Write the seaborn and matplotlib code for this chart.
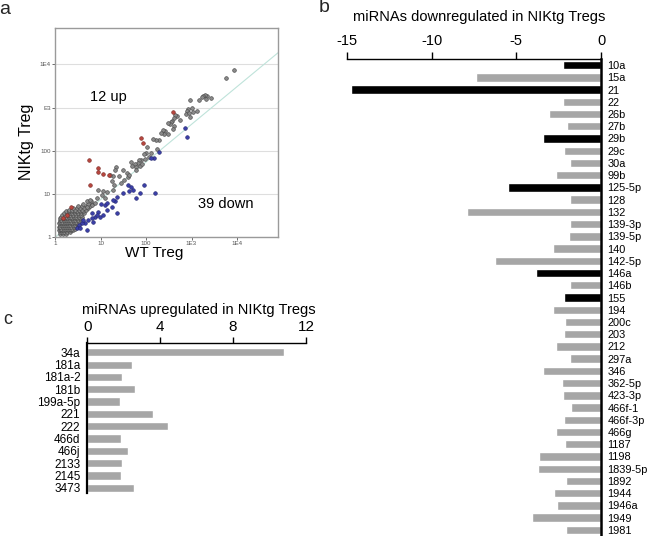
import numpy as np
import pandas as pd
import matplotlib
matplotlib.use("Agg")
import matplotlib.pyplot as plt
import seaborn as sns

# ======================
# DATA
# ======================
# panel a: log10 expression, WT Treg (x) vs NIKtg Treg (y)
# dense low-expression cluster, one row per log10(y) value
cluster_rows = [
    (0.08, [0.12, 0.18, 0.24]),
    (0.12, [0.10, 0.15, 0.20, 0.26, 0.32]),
    (0.16, [0.09, 0.13, 0.18, 0.23, 0.29, 0.35, 0.40]),
    (0.20, [0.10, 0.14, 0.19, 0.24, 0.28, 0.33, 0.38, 0.44]),
    (0.24, [0.08, 0.12, 0.17, 0.21, 0.26, 0.31, 0.36, 0.41, 0.47]),
    (0.28, [0.10, 0.15, 0.20, 0.25, 0.29, 0.34, 0.39, 0.45, 0.51]),
    (0.32, [0.09, 0.13, 0.18, 0.23, 0.27, 0.32, 0.37, 0.43, 0.49, 0.55]),
    (0.36, [0.11, 0.16, 0.21, 0.26, 0.30, 0.35, 0.41, 0.46, 0.52]),
    (0.40, [0.10, 0.14, 0.19, 0.24, 0.29, 0.34, 0.39, 0.44, 0.50, 0.57]),
    (0.44, [0.12, 0.17, 0.22, 0.27, 0.32, 0.37, 0.43, 0.48, 0.55]),
    (0.48, [0.13, 0.19, 0.24, 0.30, 0.35, 0.41, 0.47, 0.53, 0.60]),
    (0.52, [0.16, 0.22, 0.28, 0.33, 0.39, 0.46, 0.52, 0.58]),
    (0.56, [0.20, 0.26, 0.32, 0.38, 0.44, 0.50, 0.57, 0.64]),
    (0.60, [0.25, 0.31, 0.37, 0.43, 0.49, 0.56, 0.62]),
    (0.64, [0.30, 0.38, 0.45, 0.52, 0.60, 0.68]),
    (0.68, [0.40, 0.48, 0.56, 0.64, 0.72]),
    (0.72, [0.50, 0.60, 0.70, 0.78]),
    (0.78, [0.62, 0.72, 0.82]),
    (0.84, [0.70, 0.80]),
]
band_wt = [3.93, 3.76, 3.42, 3.33, 3.30, 3.26, 3.22, 3.31, 3.17, 2.97, 3.11, 2.97,
           3.00, 2.93, 2.90, 3.03, 2.88, 2.95, 2.75, 2.68, 2.64, 2.62, 2.58, 2.55,
           2.52, 2.48, 2.62, 2.60, 2.42, 2.37, 2.48, 2.40, 2.33, 2.28, 2.22, 2.16,
           2.03, 2.00, 1.95, 1.98, 1.90, 1.85, 1.82, 1.75, 1.70, 1.86, 1.78, 1.68,
           1.92, 2.06, 1.78, 1.58, 1.60, 1.52, 1.40, 1.28, 1.20, 1.25, 1.30, 1.45,
           1.28, 1.15, 1.05, 0.95, 1.03, 0.92, 0.77, 0.81, 0.70, 1.10, 0.88, 1.50,
           1.62, 2.25, 2.10, 1.35, 1.32]
band_nik = [3.86, 3.69, 3.22, 3.26, 3.30, 3.28, 3.24, 3.19, 3.17, 3.17, 2.92, 2.79,
            3.00, 2.97, 2.92, 2.90, 2.86, 2.88, 2.72, 2.80, 2.84, 2.76, 2.70, 2.66,
            2.62, 2.64, 2.58, 2.50, 2.47, 2.48, 2.40, 2.38, 2.42, 2.25, 2.24, 2.28,
            2.10, 1.95, 1.92, 1.82, 1.80, 1.78, 1.72, 1.70, 1.64, 1.66, 1.62, 1.75,
            1.70, 1.85, 1.55, 1.48, 1.40, 1.33, 1.42, 1.43, 1.45, 1.30, 1.20, 1.25,
            1.10, 1.05, 1.08, 1.10, 0.98, 0.91, 0.86, 0.75, 0.70, 0.92, 0.80, 1.55,
            1.45, 2.05, 1.95, 1.62, 1.55]
up_wt = [0.75, 0.77, 0.95, 0.94, 1.06, 1.19, 1.90, 1.93, 2.60, 0.35, 0.26, 0.18]
up_nik = [1.79, 1.20, 1.61, 1.50, 1.47, 1.44, 2.29, 2.19, 2.89, 0.71, 0.52, 0.44]
down_wt = [2.86, 2.89, 2.29, 2.18, 2.12, 1.96, 2.20, 1.87, 1.79, 1.72, 1.68, 1.63,
           1.61, 1.50, 1.36, 1.32, 1.28, 1.36, 1.14, 1.10, 1.01, 0.95, 0.99, 0.88,
           0.81, 0.73, 0.66, 0.59, 0.53, 0.48, 0.70, 0.92, 0.81, 0.62, 1.15, 1.25,
           0.84, 0.55, 1.06]
down_nik = [2.52, 2.33, 1.98, 1.83, 1.84, 1.21, 1.03, 1.03, 0.90, 1.10, 1.17, 1.06,
            1.21, 1.03, 0.94, 0.83, 0.86, 0.57, 0.63, 0.75, 0.77, 0.59, 0.48, 0.48,
            0.44, 0.40, 0.34, 0.32, 0.28, 0.21, 0.17, 0.52, 0.56, 0.40, 0.79, 0.71,
            0.36, 0.22, 0.52]

# panel b: downregulated miRNAs
down_labels = ["10a", "15a", "21", "22", "26b", "27b", "29b", "29c", "30a", "99b",
               "125-5p", "128", "132", "139-3p", "139-5p", "140", "142-5p", "146a",
               "146b", "155", "194", "200c", "203", "212", "297a", "346", "362-5p",
               "423-3p", "466f-1", "466f-3p", "466g", "1187", "1198", "1839-5p",
               "1892", "1944", "1946a", "1949", "1981"]
down_values = [-2.27, -7.41, -14.77, -2.23, -3.08, -2.00, -3.42, -2.17, -1.84, -2.67,
               -5.47, -1.84, -7.94, -1.82, -1.90, -2.83, -6.26, -3.85, -1.84, -2.21,
               -2.81, -2.15, -2.19, -2.65, -1.82, -3.42, -2.31, -2.25, -1.80, -2.17,
               -2.65, -2.13, -3.64, -3.75, -2.04, -2.79, -2.59, -4.09, -2.08]
down_highlight = ["10a", "21", "29b", "125-5p", "146a", "155"]

# panel c: upregulated miRNAs
up_labels = ["34a", "181a", "181a-2", "181b", "199a-5p", "221", "222", "466d",
             "466j", "2133", "2145", "3473"]
up_values = [10.79, 2.43, 1.92, 2.60, 1.81, 3.60, 4.41, 1.83, 2.23, 1.88, 1.85, 2.56]

GRAY = "#a6a6a6"
W, H = 647, 536

sns.set_theme(style="white")
plt.rcParams["font.family"] = ["Liberation Sans", "DejaVu Sans"]
plt.rcParams["axes.unicode_minus"] = False

fig = plt.figure(figsize=(W / 100, H / 100), dpi=100)

# ======================
# PANEL A - scatter
# ======================
ax_a = fig.add_axes([55 / W, 1 - 237.3 / H, 223 / W, 209.6 / H])

c_wt = [x for _, xs in cluster_rows for x in xs]
c_nik = [y for y, xs in cluster_rows for _ in xs]
gray_df = pd.DataFrame({"wt": 10 ** np.array(c_wt + band_wt),
                        "nik": 10 ** np.array(c_nik + band_nik)})
up_df = pd.DataFrame({"wt": 10 ** np.array(up_wt), "nik": 10 ** np.array(up_nik)})
down_df = pd.DataFrame({"wt": 10 ** np.array(down_wt), "nik": 10 ** np.array(down_nik)})

ax_a.set_xscale("log")
ax_a.set_yscale("log")
ax_a.set_xlim(1, 10 ** 4.9)
ax_a.set_ylim(1, 10 ** 4.85)
ax_a.plot([1, 10 ** 4.9], [1, 10 ** 4.27], color="#bfe3da", lw=0.8, zorder=1)

sns.scatterplot(data=gray_df, x="wt", y="nik", color="#8a8a8a", edgecolor="#4a4a4a",
                linewidth=0.45, s=7, ax=ax_a, zorder=2)
sns.scatterplot(data=up_df, x="wt", y="nik", color="#b8463e", edgecolor="#7a2a25",
                linewidth=0.4, s=7, ax=ax_a, zorder=3)
sns.scatterplot(data=down_df, x="wt", y="nik", color="#3b3fa8", edgecolor="#23266e",
                linewidth=0.4, s=7, ax=ax_a, zorder=3)

ax_a.minorticks_off()
ax_a.set_xticks([1, 10, 100, 1e3, 1e4])
ax_a.set_xticklabels(["1", "10", "100", "1E3", "1E4"])
ax_a.set_yticks([1, 10, 100, 1e3, 1e4])
ax_a.set_yticklabels(["1", "10", "100", "E3", "1E4"])
ax_a.tick_params(axis="both", which="major", labelsize=4.5, colors="#555555",
                 length=2, width=0.6, pad=1, bottom=True, left=True)
ax_a.yaxis.grid(True, color="#dedede", lw=0.8)
ax_a.xaxis.grid(False)
ax_a.set_axisbelow(True)
for sp in ax_a.spines.values():
    sp.set_color("#9a9a9a")
    sp.set_linewidth(1.0)
ax_a.set_xlabel("")
ax_a.set_ylabel("")
ax_a.text(0.157, 0.669, "12 up", transform=ax_a.transAxes, fontsize=10.5,
          ha="left", va="center", color="black")
ax_a.text(0.643, 0.159, "39 down", transform=ax_a.transAxes, fontsize=10.5,
          ha="left", va="center", color="black")
fig.text(27 / W, 1 - 142 / H, "NIKtg Treg", rotation=90, fontsize=11.5,
         ha="center", va="center", color="black")
fig.text(154 / W, 1 - 253 / H, "WT Treg", fontsize=11, ha="center",
         va="center", color="black")

# ======================
# PANEL B - downregulated
# ======================
ax_b = fig.add_axes([347 / W, 0, 254 / W, (H - 59) / H])
down_colors = ["black" if m in down_highlight else GRAY for m in down_labels]
down_df_bar = pd.DataFrame({"mirna": down_labels, "fc": down_values})
sns.barplot(data=down_df_bar, x="fc", y="mirna", hue="mirna", palette=down_colors,
            legend=False, orient="h", width=0.68, saturation=1, ax=ax_b)
ax_b.set_xlim(-15, 0)
ax_b.set_ylim(len(down_labels) - 0.5, -0.5)
ax_b.xaxis.tick_top()
ax_b.yaxis.tick_right()
ax_b.set_xticks([-15, -10, -5, 0])
ax_b.tick_params(axis="x", direction="out", length=5, width=1, pad=3,
                 labelsize=10.5, colors="black", top=True, bottom=False)
ax_b.tick_params(axis="y", length=0, pad=4.5, labelsize=7.9, colors="black")
ax_b.spines["left"].set_visible(False)
ax_b.spines["bottom"].set_visible(False)
ax_b.spines["top"].set_linewidth(1.0)
ax_b.spines["top"].set_color("black")
ax_b.spines["right"].set_linewidth(1.8)
ax_b.spines["right"].set_color("black")
ax_b.set_xlabel("")
ax_b.set_ylabel("")
ax_b.patch.set_alpha(0)
fig.text(479 / W, 1 - 17 / H, "miRNAs downregulated in NIKtg Tregs", fontsize=10.5,
         ha="center", va="center", color="black")

# ======================
# PANEL C - upregulated
# ======================
ax_c = fig.add_axes([87.3 / W, 1 - 493.3 / H, 218.7 / W, 150.6 / H])
up_df_bar = pd.DataFrame({"mirna": up_labels, "fc": up_values})
sns.barplot(data=up_df_bar, x="fc", y="mirna", color=GRAY, orient="h",
            width=0.66, saturation=1, ax=ax_c)
ax_c.set_xlim(0, 12)
ax_c.set_ylim(len(up_labels) - 0.55, -0.78)
ax_c.xaxis.tick_top()
ax_c.set_xticks([0, 4, 8, 12])
ax_c.tick_params(axis="x", direction="out", length=4, width=1, pad=2,
                 labelsize=11, colors="black", top=True, bottom=False)
ax_c.tick_params(axis="y", length=0, pad=5, labelsize=8.5, colors="black")
ax_c.spines["right"].set_visible(False)
ax_c.spines["bottom"].set_visible(False)
ax_c.spines["top"].set_linewidth(1.0)
ax_c.spines["top"].set_color("black")
ax_c.spines["left"].set_linewidth(1.6)
ax_c.spines["left"].set_color("black")
ax_c.set_xlabel("")
ax_c.set_ylabel("")
ax_c.patch.set_alpha(0)
fig.text(199 / W, 1 - 310 / H, "miRNAs upregulated in NIKtg Tregs", fontsize=10.5,
         ha="center", va="center", color="black")

# panel letters
fig.text(5 / W, 1 - 10 / H, "a", fontsize=14, ha="center", va="center")
fig.text(324 / W, 1 - 8 / H, "b", fontsize=14, ha="center", va="center")
fig.text(8 / W, 1 - 319 / H, "c", fontsize=13, ha="center", va="center")

fig.savefig("out.png", dpi=100)
